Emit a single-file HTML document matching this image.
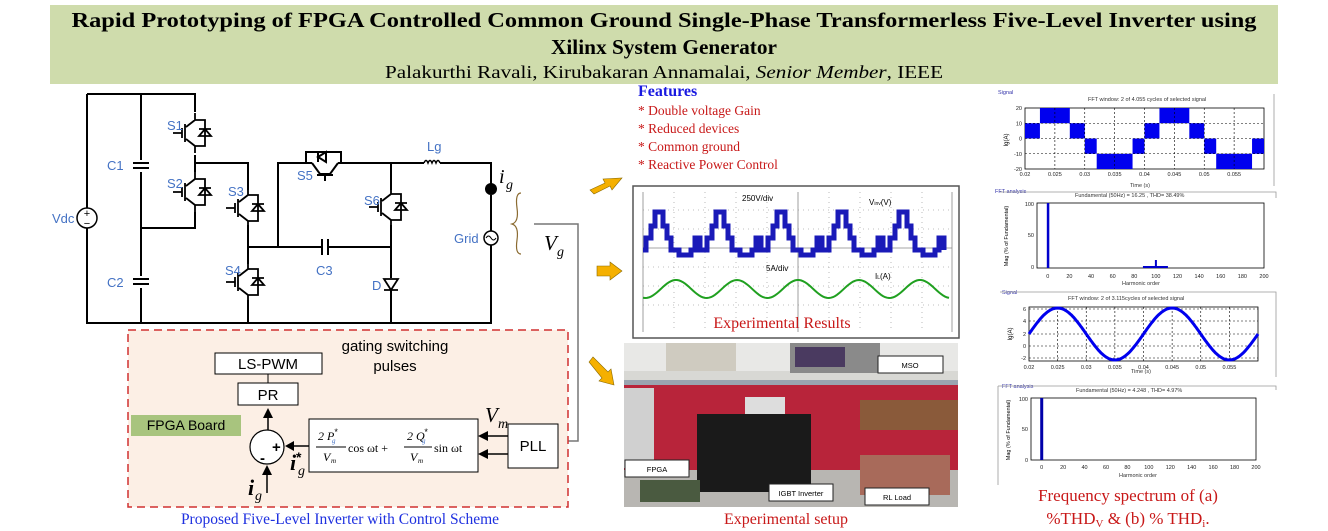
<!DOCTYPE html>
<html><head><meta charset="utf-8"><style>
html,body{margin:0;padding:0;background:#fff;}
svg{display:block;}
text{font-family:"Liberation Sans",sans-serif;}
.serif{font-family:"Liberation Serif",serif;}
</style></head><body>
<svg id="s" width="1328" height="531" viewBox="0 0 1328 531" xmlns="http://www.w3.org/2000/svg">
<!-- header -->
<rect x="50" y="5" width="1228" height="79" fill="#cfdcac"/>
<text class="serif" x="664" y="27" font-size="21" font-weight="bold" text-anchor="middle" textLength="1185" lengthAdjust="spacingAndGlyphs">Rapid Prototyping of FPGA Controlled Common Ground Single-Phase Transformerless Five-Level Inverter using</text>
<text class="serif" x="664" y="54" font-size="21" font-weight="bold" text-anchor="middle" textLength="226" lengthAdjust="spacingAndGlyphs">Xilinx System Generator</text>
<text class="serif" x="664" y="78" font-size="18" text-anchor="middle" textLength="558" lengthAdjust="spacingAndGlyphs">Palakurthi Ravali, Kirubakaran Annamalai, <tspan font-style="italic">Senior Member</tspan>, IEEE</text>

<!-- circuit wires -->
<g stroke="#000" stroke-width="2" fill="none">
<path d="M87 94 H195 V112 M87 94 V208 M87 228 V323 H491 V245 M491 231 V195 M491 185 V163 H440 M424 163 H391 V190"/>
<path d="M141 94 V160 M141 172 V276 M141 288 V323"/>
<path d="M195 155 V172 M195 212 V228 H141"/>
<path d="M195 163 H248 V190 M248 225 V247 V264 M248 300 V323"/>
<path d="M248 247 H322 M328 247 H391 M278 247 V163 H312 M338 163 H391"/>
<path d="M391 225 V278 M391 290 V323"/>
<!-- C1 C2 C3 plates -->
<path d="M133 163 H149 M133 168 H149 M133 279 H149 M133 284 H149 M322 239 V255 M328 239 V255"/>
<!-- S5 block -->
<path d="M306 163 V152 H341 V163 M318 157 L326 152 L326 162 Z M318 152 V162"/>
<path d="M312 163 L320 174 H330 L338 163 M317 175 H333 M325 175 V181"/>
</g>
<!-- IGBTs -->
<g id="igbts" stroke="#000" stroke-width="1.8" fill="none"></g>
<!-- diode D -->
<path d="M384 279 H398 L391 290 Z M384 290 H398" stroke="#000" stroke-width="1.8" fill="none"/>
<!-- Lg -->
<path d="M424 163 q2-5 4 0 q2-5 4 0 q2-5 4 0 q2-5 4 0" stroke="#000" stroke-width="1.5" fill="none"/>
<!-- Vdc -->
<circle cx="87" cy="218" r="10" fill="#fff" stroke="#000" stroke-width="1.5"/>
<text x="87" y="217" font-size="11" text-anchor="middle">+</text><text x="87" y="227" font-size="11" text-anchor="middle">−</text>
<!-- grid -->
<circle cx="491" cy="238" r="7" fill="#fff" stroke="#000" stroke-width="1.5"/>
<path d="M486 238 q2.5-4 5 0 q2.5 4 5 0" stroke="#000" fill="none"/>
<circle cx="491" cy="189" r="6" fill="#000"/>
<g fill="#4472c4" font-size="13">
<text x="107" y="170">C1</text><text x="107" y="287">C2</text><text x="52" y="223">Vdc</text>
<text x="167" y="130">S1</text><text x="167" y="188">S2</text><text x="228" y="196">S3</text><text x="225" y="275">S4</text>
<text x="297" y="180">S5</text><text x="364" y="205">S6</text><text x="316" y="275">C3</text><text x="372" y="290">D</text>
<text x="427" y="151">Lg</text><text x="454" y="243">Grid</text>
</g>
<text class="serif" x="499" y="183" font-size="20" font-style="italic">i</text><text class="serif" x="506" y="189" font-size="14" font-style="italic">g</text>
<path d="M521 193 q-6 0-4 15 q2 14-5 16 q7 2 5 16 q-2 14 4 14" stroke="#8a6a30" fill="none" stroke-width="1.2"/>
<text class="serif" x="544" y="250" font-size="21" font-style="italic">V</text><text class="serif" x="557" y="256" font-size="14" font-style="italic">g</text>
<path d="M534 224 H578 V441 H566" stroke="#777" stroke-width="1.5" fill="none"/>
<path d="M559 441 L568 436 L568 446 Z" fill="#000"/>

<!-- control box -->
<rect x="128" y="330" width="440" height="177" fill="#fcefe5" stroke="#d03030" stroke-width="1.5" stroke-dasharray="8,5"/>
<text x="395" y="351" font-size="15" text-anchor="middle">gating switching</text>
<text x="395" y="371" font-size="15" text-anchor="middle">pulses</text>
<rect x="215" y="353" width="107" height="21" fill="#fff" stroke="#000"/>
<text x="268" y="369" font-size="15" text-anchor="middle">LS-PWM</text>
<line x1="268" y1="374" x2="268" y2="383" stroke="#000"/>
<rect x="238" y="383" width="60" height="22" fill="#fff" stroke="#000"/>
<text x="268" y="400" font-size="15" text-anchor="middle">PR</text>
<rect x="131" y="415" width="110" height="21" fill="#a8c47e"/>
<text x="186" y="430" font-size="14" text-anchor="middle">FPGA Board</text>
<path d="M268 430 V418" stroke="#000" stroke-width="1.5"/><path d="M268 408 L263 418 H273 Z" fill="#000"/>
<circle cx="267" cy="447" r="17" fill="#fff" stroke="#000" stroke-width="1.2"/>
<text x="272" y="452" font-size="15" font-weight="bold">+</text>
<text x="260" y="463" font-size="15" font-weight="bold">-</text>
<path d="M309 446 H293" stroke="#000" stroke-width="1.5"/><path d="M285 446 L294 441 V451 Z" fill="#000"/>
<path d="M267 493 V474" stroke="#000" stroke-width="1.5"/><path d="M267 465 L262 475 H272 Z" fill="#000"/>
<text class="serif" x="248" y="495" font-size="22" font-style="italic" font-weight="bold">i</text><text class="serif" x="255" y="500" font-size="14" font-style="italic">g</text>
<text class="serif" x="290" y="470" font-size="22" font-style="italic" font-weight="bold">i</text><text class="serif" x="298" y="475" font-size="14" font-style="italic">g</text><text x="296" y="462" font-size="14" font-weight="bold">*</text>
<rect x="309" y="419" width="169" height="53" fill="#fff" stroke="#000"/>
<g class="serif" font-size="12" font-style="italic">
<text class="serif" x="318" y="440">2 P</text><text class="serif" x="332" y="443" font-size="7" fill="#4472c4">g</text><text x="334" y="435" font-size="9">*</text>
<line x1="316" y1="447" x2="346" y2="447" stroke="#000"/>
<text class="serif" x="323" y="461">V</text><text class="serif" x="331" y="463" font-size="7">m</text>
<text class="serif" x="348" y="452" font-style="normal">cos  ωt  +</text>
<text class="serif" x="407" y="440">2 Q</text><text class="serif" x="422" y="443" font-size="7" fill="#4472c4">g</text><text x="424" y="435" font-size="9">*</text>
<line x1="404" y1="447" x2="432" y2="447" stroke="#000"/>
<text class="serif" x="410" y="461">V</text><text class="serif" x="418" y="463" font-size="7">m</text>
<text class="serif" x="434" y="452" font-style="normal">sin  ωt</text>
</g>
<path d="M508 436 H487 M508 454 H487" stroke="#000" stroke-width="1.5"/>
<path d="M478 436 L488 431 V441 Z M478 454 L488 449 V459 Z" fill="#000"/>
<text class="serif" x="485" y="422" font-size="21" font-style="italic">V</text><text class="serif" x="498" y="428" font-size="14" font-style="italic">m</text>
<rect x="508" y="424" width="50" height="44" fill="#fff" stroke="#000"/>
<text x="533" y="451" font-size="15" text-anchor="middle">PLL</text>
<text class="serif" x="340" y="524" font-size="15.5" fill="#1e30e0" text-anchor="middle">Proposed Five-Level Inverter with Control Scheme</text>

<!-- features -->
<text class="serif" x="638" y="96" font-size="16" font-weight="bold" fill="#1818e0">Features</text>
<g class="serif" font-size="13.5" fill="#c81818">
<text class="serif" x="638" y="115">* Double voltage Gain</text>
<text class="serif" x="638" y="133">* Reduced devices</text>
<text class="serif" x="638" y="151">* Common ground</text>
<text class="serif" x="638" y="169">* Reactive Power Control</text>
</g>
<g fill="#f5b000" stroke="#8a6a00" stroke-width="0.6">
<path d="M590 190 L605 183 L603 179 L622 178 L612 190 L610 186 L594 194 Z"/>
<path d="M597 266 H610 V262 L622 271 L610 280 V276 H597 Z"/>
<path d="M589 362 L593 357 L608 372 L611 369 L614 385 L599 381 L602 378 Z"/>
</g>
<!-- scope -->
<rect x="633" y="186" width="326" height="152" fill="#fff" stroke="#555" stroke-width="1.5"/>
<g stroke="#aaa" stroke-width="0.8" stroke-dasharray="1,4">
<path d="M674 192 V332 M705 192 V332 M736 192 V332 M767 192 V332 M829 192 V332 M860 192 V332 M891 192 V332 M922 192 V332"/>
<path d="M643 210 H952 M643 229 H952 M643 267 H952 M643 286 H952 M643 305 H952"/>
</g>
<path d="M643 192 V332 M798 192 V332 M952 192 V332 M643 248 H952" stroke="#888" stroke-width="0.8"/>
<path id="vinv" fill="none" stroke="#1a1ab8" stroke-width="5"/>
<path id="il" fill="none" stroke="#20a020" stroke-width="2"/>
<text x="742" y="201" font-size="8">250V/div</text><text x="869" y="205" font-size="8">V<tspan font-size="5">inv</tspan>(V)</text>
<text x="766" y="271" font-size="8">5A/div</text><text x="875" y="279" font-size="8">I<tspan font-size="5">L</tspan>(A)</text>
<text class="serif" x="782" y="328" font-size="16" fill="#c81818" text-anchor="middle">Experimental Results</text>
<!-- photo -->
<rect x="624" y="343" width="334" height="164" fill="#d8d8d4"/>
<rect x="624" y="343" width="334" height="28" fill="#e8e8e6"/>
<rect x="666" y="343" width="70" height="28" fill="#cfcbc0"/>
<rect x="790" y="343" width="90" height="30" fill="#8a8a8a"/><rect x="795" y="347" width="50" height="20" fill="#4a3a60"/>
<rect x="624" y="380" width="334" height="90" fill="#b8243a"/>
<rect x="624" y="380" width="334" height="5" fill="#9aa4b0"/>
<rect x="624" y="388" width="30" height="80" fill="#d0d0d0"/>
<rect x="624" y="470" width="334" height="37" fill="#b8b6b2"/>
<rect x="745" y="397" width="40" height="20" fill="#ddd"/>
<rect x="697" y="414" width="114" height="78" fill="#1a1a1a"/>
<rect x="860" y="400" width="98" height="30" fill="#8a5a3a"/>
<rect x="860" y="455" width="90" height="40" fill="#a86a5a"/>
<rect x="640" y="480" width="60" height="22" fill="#4a5a40"/>
<g fill="#fff" stroke="#222" stroke-width="1">
<rect x="878" y="356" width="65" height="17"/><rect x="625" y="460" width="64" height="17"/>
<rect x="769" y="484" width="64" height="17"/><rect x="865" y="488" width="64" height="17"/>
</g>
<g font-size="7.5" text-anchor="middle"><text x="910" y="368">MSO</text><text x="657" y="472">FPGA</text><text x="801" y="496">IGBT Inverter</text><text x="897" y="500">RL Load</text></g>
<text class="serif" x="786" y="524" font-size="16" fill="#c81818" text-anchor="middle">Experimental setup</text>

<!-- right charts -->
<g font-size="5.5" fill="#333">
<text x="998" y="94" fill="#3333aa">Signal</text><text x="1088" y="101">FFT window: 2 of 4.055 cycles of selected signal</text>
<text x="1130" y="187">Time (s)</text>
<text x="995" y="193" fill="#3333aa">FFT analysis</text><text x="1075" y="197">Fundamental (50Hz) = 16.25 , THD= 38.49%</text>
<text x="1122" y="285">Harmonic order</text>
<text x="1002" y="294" fill="#3333aa">Signal</text><text x="1068" y="300">FFT window: 2 of 3.115cycles of selected signal</text>
<text x="1131" y="373">Time (s)</text>
<text x="1002" y="388" fill="#3333aa">FFT analysis</text><text x="1076" y="392">Fundamental (50Hz) = 4.248 , THD= 4.97%</text>
<text x="1119" y="477">Harmonic order</text>
</g>
<path d="M1274 94 V186 M1000 192 H1276 V198 M1000 292 H1276 V377 M998 386 V485 M998 386 H1276 V390" stroke="#999" fill="none" stroke-width="0.8"/>
<g id="c1"></g>
<text class="serif" x="1128" y="501" font-size="17" fill="#c81818" text-anchor="middle">Frequency spectrum of (a)</text>
<text class="serif" x="1128" y="524" font-size="17" fill="#c81818" text-anchor="middle">%THD<tspan font-size="11" dy="3">V</tspan><tspan dy="-3"> &amp; (b) % THD</tspan><tspan font-size="11" dy="3">i</tspan><tspan dy="-3">.</tspan></text>
</svg>
<script>
var NS="http://www.w3.org/2000/svg";
function el(p,t,a,txt){var e=document.createElementNS(NS,t);for(var k in a)e.setAttribute(k,a[k]);if(txt!==undefined)e.textContent=txt;p.appendChild(e);return e;}
// IGBTs
var g=document.getElementById('igbts');
function igbt(x,y){ // x = collector line x, y center
 el(g,'path',{d:'M'+x+' '+(y-20)+' V'+(y-13)+' L'+(x-9)+' '+(y-6)+' M'+(x-9)+' '+(y+6)+' L'+x+' '+(y+13)+' V'+(y+20)+' M'+(x-10)+' '+(y-9)+' V'+(y+9)+' M'+(x-13)+' '+(y-5)+' V'+(y+5)+' M'+(x-13)+' '+y+' H'+(x-22)+' M'+x+' '+(y-13)+' H'+(x+10)+' V'+(y+13)+' H'+x+' M'+(x+4)+' '+(y+3)+' H'+(x+16)+' L'+(x+10)+' '+(y-4)+' Z M'+(x+4)+' '+(y-4)+' H'+(x+16)});
}
igbt(195,133);igbt(195,192);igbt(248,208);igbt(248,282);igbt(391,207);
// scope waveforms
var lv=[212,224,236,248,250];
var d='',x0=643,P=61;
for(var k=0;k<5;k++){var b=x0+k*P;
 var seg=[[0,248],[4,238],[8,226],[14,216],[20,212],[27,216],[31,226],[35,236],[39,248],[53,248],[57,236]];
 d+=(k==0?'M':'L')+b+' 250 ';
 var steps=[[0,250],[3,250],[3,236],[7,236],[7,224],[11,224],[11,212],[20,212],[20,224],[24,224],[24,236],[28,236],[28,250],[32,250],[32,250],[40,250],[40,260],[46,260],[46,250],[52,250],[52,236],[57,236],[57,250],[61,250]];
 steps=[[0,250],[3,250],[3,238],[8,238],[8,226],[12,226],[12,212],[20,212],[20,226],[24,226],[24,238],[28,238],[28,250],[36,250],[36,255],[48,255],[48,250],[52,250],[52,238],[57,238],[57,250]];
 for(var i=0;i<steps.length;i++)d+='L'+(b+steps[i][0])+' '+steps[i][1]+' ';
}
document.getElementById('vinv').setAttribute('d',d);
var s='';for(var x=643;x<=950;x+=2){var y=289-9*Math.cos(2*Math.PI*(x-676)/61);s+=(x==643?'M':'L')+x+' '+y.toFixed(1)+' ';}
document.getElementById('il').setAttribute('d',s);
// charts
var c=document.getElementById('c1');
function axes(x1,y1,x2,y2,nx,ny){el(c,'rect',{x:x1,y:y1,width:x2-x1,height:y2-y1,fill:'#fff',stroke:'#000','stroke-width':0.8});}
function grid(x1,y1,x2,y2,xs,ys){for(var i=0;i<xs.length;i++)el(c,'line',{x1:xs[i],x2:xs[i],y1:y1,y2:y2,stroke:'#000','stroke-width':0.6,'stroke-dasharray':'2,2'});for(var i=0;i<ys.length;i++)el(c,'line',{x1:x1,x2:x2,y1:ys[i],y2:ys[i],stroke:'#000','stroke-width':0.6,'stroke-dasharray':'2,2'});}
function lab(x,y,t,a){el(c,'text',{x:x,y:y,'font-size':5.5,'text-anchor':a||'middle',fill:'#222'},t);}
// chart1
axes(1025,108,1264,169);
var X=function(t){return 1025+(t-0.02)*5975;},Y=function(v){return 138.5-v*1.525;};
var xs=[],tl=[0.02,0.025,0.03,0.035,0.04,0.045,0.05,0.055];
for(var i=1;i<tl.length;i++)xs.push(X(tl[i]));
var bl=[[0,0.0025,0,10],[0.0025,0.0075,10,20],[0.0075,0.01,0,10],[0.01,0.012,-10,0],[0.012,0.018,-20,-10],[0.018,0.02,-10,0]];
for(var p=0;p<2;p++)for(var i=0;i<bl.length;i++){var t1=0.02+p*0.02+bl[i][0],t2=Math.min(0.06,0.02+p*0.02+bl[i][1]);if(t1>=0.06)continue;el(c,'rect',{x:X(t1),y:Y(bl[i][3]),width:X(t2)-X(t1),height:Y(bl[i][2])-Y(bl[i][3]),fill:'#0000ee'});}
grid(1025,108,1264,169,xs,[Y(10),Y(0),Y(-10)]);
for(var i=0;i<tl.length;i++)lab(X(tl[i]),176,String(tl[i]).replace('0.','0.'));
[20,10,0,-10,-20].forEach(function(v){lab(1022,Y(v)+2,v,'end');});
el(c,'text',{x:1008,y:140,'font-size':6,transform:'rotate(-90 1008 140)','text-anchor':'middle'},'Ig(A)');
// chart2
axes(1037,203,1264,268);
var X2=function(h){return 1037+(h+10)*(227/210);};
el(c,'rect',{x:X2(0)-1,y:203,width:2.5,height:65,fill:'#0000cc'});
el(c,'rect',{x:X2(100)-1,y:260,width:2,height:8,fill:'#0000cc'});
el(c,'rect',{x:X2(88),y:266,width:25,height:2,fill:'#0000cc'});
for(var h=0;h<=200;h+=20)lab(X2(h),278,h);
lab(1034,206,'100','end');lab(1034,237,'50','end');lab(1034,269,'0','end');
el(c,'text',{x:1008,y:236,'font-size':5.5,transform:'rotate(-90 1008 236)','text-anchor':'middle'},'Mag (% of Fundamental)');
// chart3
axes(1029,307,1258,361);
var X3=function(t){return 1029+(t-0.02)*5725;};
var xs3=[];for(var i=1;i<tl.length;i++)xs3.push(X3(tl[i]));
grid(1029,307,1258,361,xs3,[309,321,334,346,358]);
var s3='';for(var t=0.02;t<=0.0601;t+=0.0002){s3+=(t<0.02001?'M':'L')+X3(t).toFixed(1)+' '+(334-26*Math.sin(2*Math.PI*(t-0.02)/0.02)).toFixed(1)+' ';}
el(c,'path',{d:s3,fill:'none',stroke:'#0000ee','stroke-width':3});
for(var i=0;i<tl.length;i++)lab(X3(tl[i]),369,tl[i]);
[[6,309],[4,321],[2,334],[0,346],[-2,358]].forEach(function(a){lab(1026,a[1]+2,a[0],'end');});
el(c,'text',{x:1012,y:334,'font-size':6,transform:'rotate(-90 1012 334)','text-anchor':'middle'},'Ig(A)');
// chart4
axes(1031,398,1256,460);
var X4=function(h){return 1031+(h+10)*(225/210);};
el(c,'rect',{x:X4(0)-1.5,y:398,width:3,height:62,fill:'#0000aa'});
for(var h=0;h<=200;h+=20)lab(X4(h),469,h);
lab(1028,401,'100','end');lab(1028,431,'50','end');lab(1028,462,'0','end');
el(c,'text',{x:1010,y:430,'font-size':5.5,transform:'rotate(-90 1010 430)','text-anchor':'middle'},'Mag (% of Fundamental)');
</script>
</body></html>
